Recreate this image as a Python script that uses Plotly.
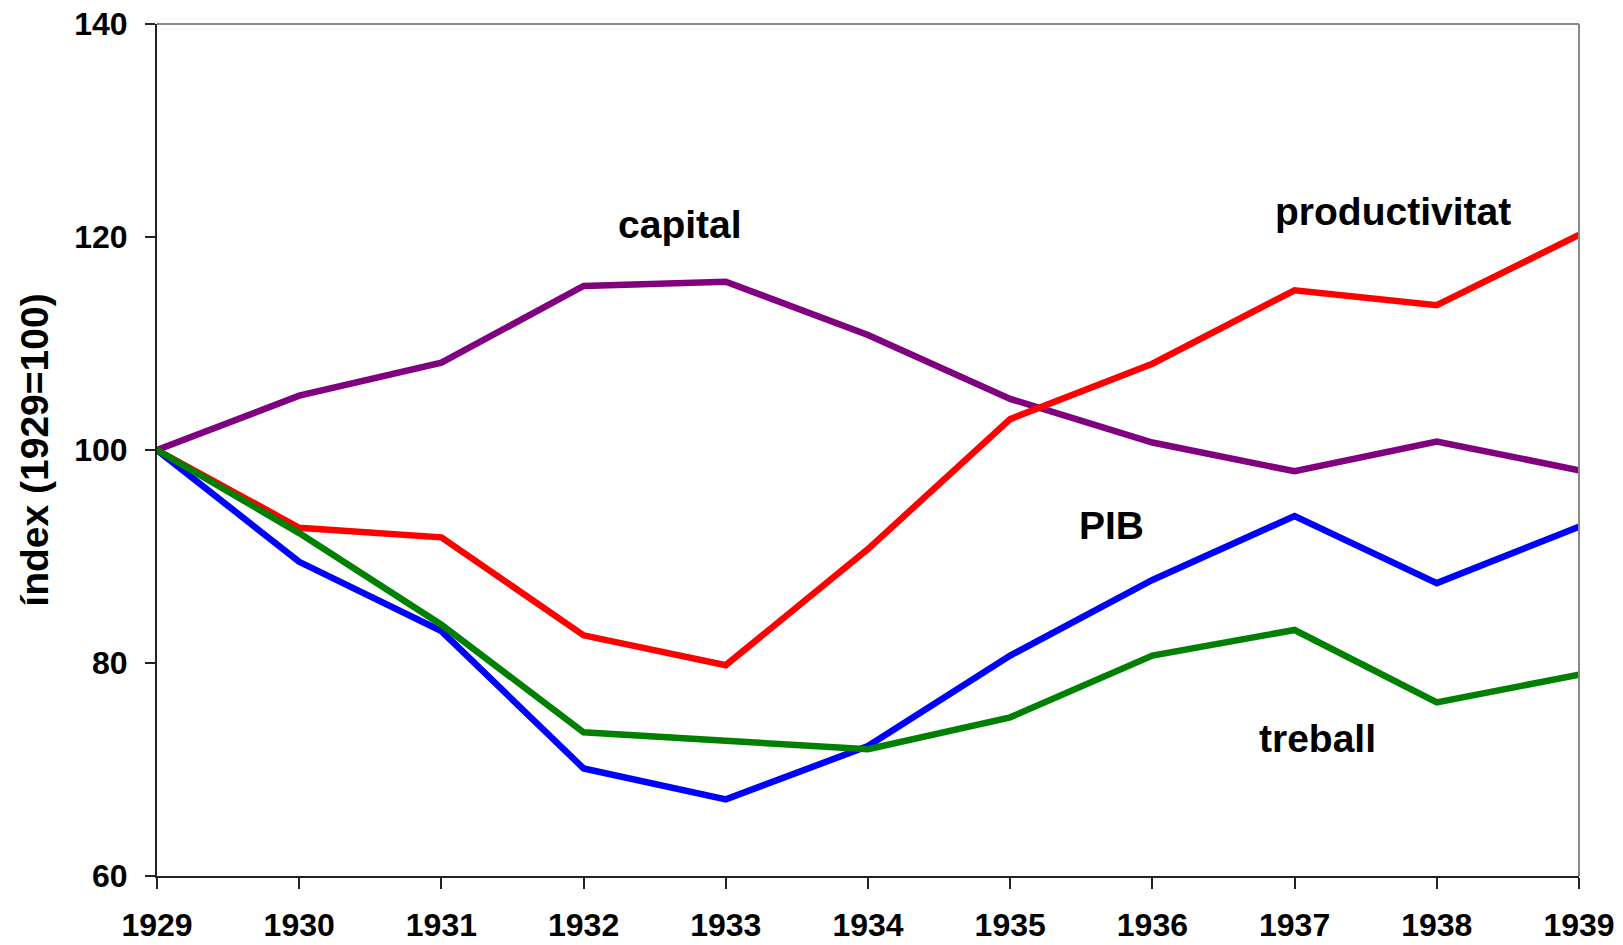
import plotly.graph_objects as go

years = [1929, 1930, 1931, 1932, 1933, 1934, 1935, 1936, 1937, 1938, 1939]
capital = [100, 105.1, 108.2, 115.4, 115.8, 110.8, 104.8, 100.7, 98.0, 100.8, 98.1]
productivitat = [100, 92.7, 91.8, 82.6, 79.8, 90.7, 102.9, 108.1, 115.0, 113.6, 120.2]
pib = [100, 89.5, 83.0, 70.1, 67.2, 72.2, 80.7, 87.8, 93.8, 87.5, 92.8]
treball = [100, 92.2, 83.6, 73.5, 72.7, 71.9, 74.9, 80.7, 83.1, 76.3, 78.9]

series = [
    ("capital", capital, "#800080"),
    ("productivitat", productivitat, "#FF0000"),
    ("PIB", pib, "#0000FF"),
    ("treball", treball, "#008000"),
]

labels = [
    ("capital", 1932.68, 121.2),
    ("productivitat", 1937.69, 122.4),
    ("PIB", 1935.71, 92.9),
    ("treball", 1937.16, 72.9),
]

FONT = "Liberation Sans, Arial, sans-serif"

fig = go.Figure()
for name, vals, color in series:
    fig.add_trace(go.Scatter(x=years, y=vals, mode="lines", name=name,
                             line=dict(color=color, width=6.5), showlegend=False))

for text, x, y in labels:
    fig.add_annotation(x=x, y=y, text="<b>%s</b>" % text, showarrow=False,
                       font=dict(family=FONT, size=39, color="black"),
                       xanchor="center", yanchor="middle")

fig.update_xaxes(range=[1929, 1939], tickmode="array", tickvals=years,
                 ticktext=["<b>%d</b>" % y for y in years],
                 showgrid=False, zeroline=False, showline=True, automargin=False,
                 linecolor="#222222", linewidth=2, ticks="outside", ticklen=11,
                 tickcolor="#222222", tickwidth=1.5,
                 tickfont=dict(family=FONT, size=32, color="black"),
                 ticklabelstandoff=9, ticklabeloverflow="allow")
fig.update_yaxes(range=[60, 140], tickmode="array", tickvals=[60, 80, 100, 120, 140],
                 ticktext=["<b>%d</b>" % v for v in [60, 80, 100, 120, 140]],
                 showgrid=False, zeroline=False, showline=True, automargin=False,
                 linecolor="#222222", linewidth=2, ticks="outside", ticklen=10,
                 tickcolor="#222222", tickwidth=1.5,
                 tickfont=dict(family=FONT, size=32, color="black"),
                 ticklabelstandoff=11, ticklabeloverflow="allow",
                 title=dict(text="<b>índex (1929=100)</b>",
                            font=dict(family=FONT, size=39, color="black"),
                            standoff=14))

# grey top and right frame lines
fig.add_shape(type="line", xref="paper", yref="paper", x0=0, x1=1, y0=1, y1=1,
              line=dict(color="#888888", width=2))
fig.add_shape(type="line", xref="paper", yref="paper", x0=1, x1=1, y0=0, y1=1,
              line=dict(color="#888888", width=2))

fig.update_layout(width=1615, height=937,
                  margin=dict(l=149, r=44, t=16, b=69),
                  paper_bgcolor="white", plot_bgcolor="white",
                  font=dict(family=FONT))

fig.write_html("out.html")
